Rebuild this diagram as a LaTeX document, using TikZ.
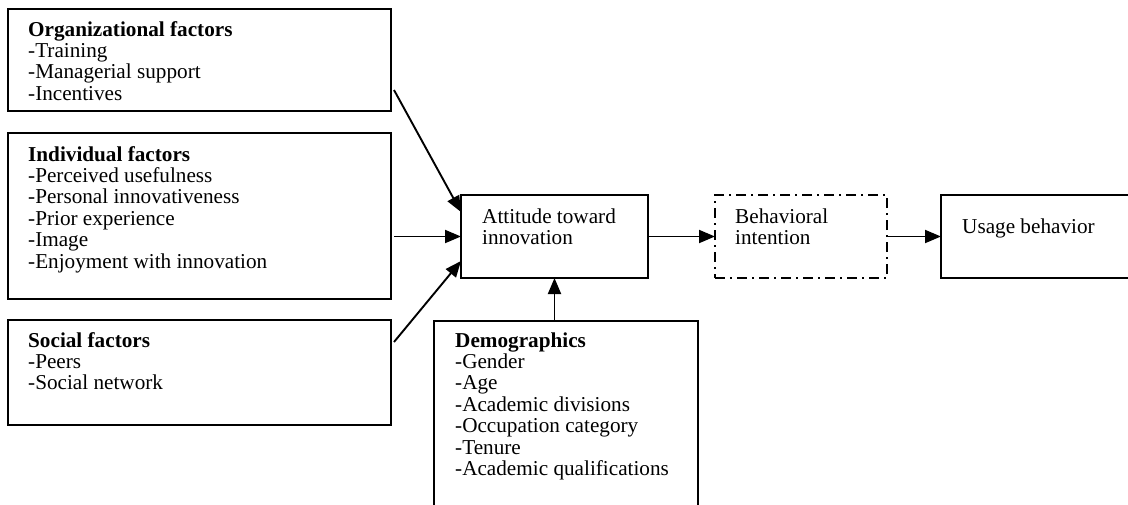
\documentclass[tikz,border=0pt]{standalone}
\usepackage{fontspec}
\setmainfont{Liberation Serif}
\usetikzlibrary{arrows.meta}
\newcommand{\diagfont}{\fontsize{21.2pt}{21.4pt}\selectfont}
\tikzset{
  box/.style={draw, line width=1.9pt, inner sep=0pt, outer sep=0pt, anchor=north west},
  dashbox/.style={box, dash pattern=on 10pt off 5pt on 2pt off 5pt},
  lbl/.style={inner sep=0pt, anchor=base west, align=left, font=\diagfont},
  arr/.style={line width=1.9pt, -{Triangle[length=16pt,width=13pt]}}
}
\begin{document}
\begin{tikzpicture}[x=1pt,y=-1pt]
\path[use as bounding box, clip] (0,0) rectangle (1128,504);
\fill[white] (0,0) rectangle (1128,504);
% boxes
\node[box, minimum width=383pt, minimum height=102pt] (org) at (8,9) {};
\node[box, minimum width=383pt, minimum height=166pt] (ind) at (8,133) {};
\node[box, minimum width=383pt, minimum height=105pt] (soc) at (8,320) {};
\node[box, minimum width=187pt, minimum height=83pt] (att) at (461,195) {};
\node[dashbox, minimum width=172pt, minimum height=83pt] (bi) at (715,195) {};
\node[box, minimum width=210pt, minimum height=83pt] (use) at (941,195) {};
\node[box, minimum width=264pt, minimum height=210pt] (demo) at (434,321) {};
% labels (base anchor = baseline of last line)
\node[lbl] (orgT) at (28,100.2) {\textbf{Organizational factors}\\-Training\\-Managerial support\\-Incentives};
\node[lbl] (indT) at (28,268) {\textbf{Individual factors}\\-Perceived usefulness\\-Personal innovativeness\\-Prior experience\\-Image\\-Enjoyment with innovation};
\node[lbl] (socT) at (28,389.8) {\textbf{Social factors}\\-Peers\\-Social network};
\node[lbl] (demoT) at (455,475.4) {\textbf{Demographics}\\-Gender\\-Age\\-Academic divisions\\-Occupation category\\-Tenure\\-Academic qualifications};
\node[lbl] (attT) at (482,244.4) {Attitude toward\\innovation};
\node[lbl] (biT) at (735,244.4) {Behavioral\\intention};
\node[lbl] (useT) at (962,233) {Usage behavior};
% connectors
\draw[arr] ([xshift=3pt,yshift=21pt]org.south east) -- ([yshift=-17pt]att.north west);
\draw[arr] ([xshift=3pt]ind.east |- att.west) -- (att.west);
\draw[arr] ([xshift=3pt,yshift=-22pt]soc.north east) -- ([yshift=17pt]att.south west);
\draw[arr] (demo.north -| att.south) -- (att.south);
\draw[arr] (att.east) -- (bi.west);
\draw[arr] (bi.east) -- (use.west);
\end{tikzpicture}
\end{document}
